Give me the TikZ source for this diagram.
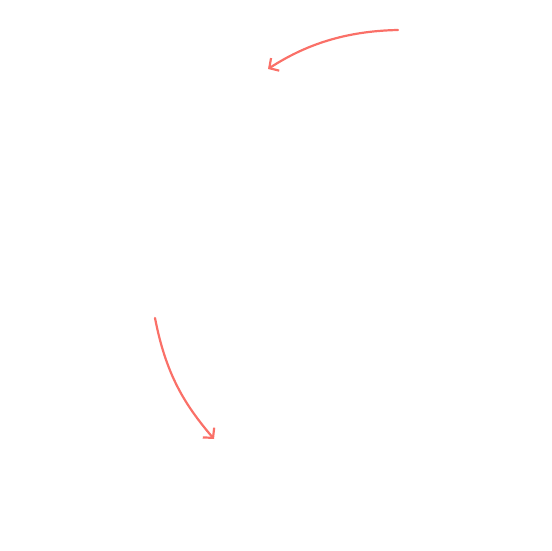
\documentclass[tikz,border=0pt]{standalone}
\usetikzlibrary{
	positioning
	, arrows.meta
}
\definecolor{arrowred}{RGB}{250,112,104}

\begin{document}
\begin{tikzpicture}[x=1pt, y=-1pt]
	\begin{scope}[
		bendarrow/.style={draw=arrowred, line width=2.2pt, line cap=round,
			-{Straight Barb[length=7pt, width=15pt, line width=2.2pt]}}]

		\useasboundingbox (0, 0) rectangle (551, 551);

		%% Arrow ends
		\coordinate (topstart) at (398, 30);
		\coordinate (topend) at (268, 69);
		\coordinate (leftstart) at (155, 318);
		\coordinate (leftend) at (214, 439);

		% Top arrow
		\draw[bendarrow] (topstart) .. controls (345, 31) and (305, 45) .. (topend);

		% Left arrow
		\draw[bendarrow] (leftstart) .. controls (166, 375) and (185, 405) .. (leftend);
	\end{scope}
\end{tikzpicture}
\end{document}
